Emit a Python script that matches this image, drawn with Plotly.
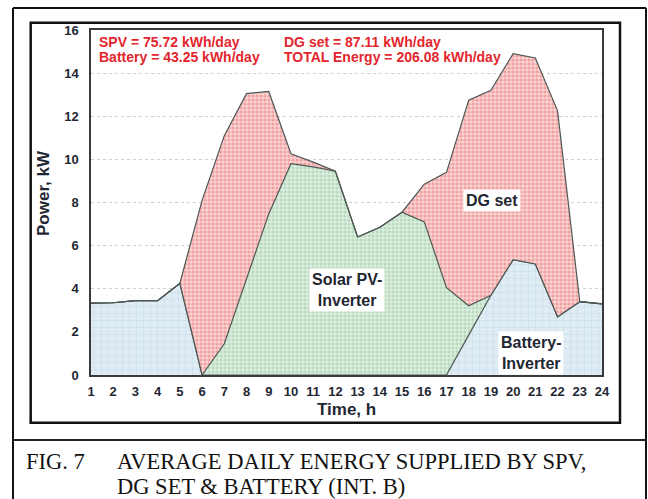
import plotly.graph_objects as go

# ---------------- data ----------------
hours = list(range(1, 25))
battery = [3.33, 3.35, 3.45, 3.45, 4.25, 0, 0, 0, 0, 0, 0, 0,
           0, 0, 0, 0, 0, 1.85, 3.7, 5.35, 5.15, 2.7, 3.4, 3.3]
solar = [0, 0, 0, 0, 0, 0, 1.45, 4.5, 7.47, 9.8, 9.65, 9.45,
         6.4, 6.85, 7.55, 7.1, 4.05, 1.36, 0, 0, 0, 0, 0, 0]
dg_set = [0, 0, 0, 0, 0, 8.1, 9.65, 8.55, 5.68, 0.46, 0.22, 0,
          0, 0, 0, 1.75, 5.35, 9.54, 9.5, 9.55, 9.55, 9.55, 0, 0]
y_ticks = list(range(0, 17, 2))

energy_lines = [
    ("SPV = 75.72 kWh/day", "Battery = 43.25 kWh/day"),
    ("DG set = 87.11 kWh/day", "TOTAL Energy = 206.08 kWh/day"),
]
caption_num = "FIG. 7"
caption_l1 = "AVERAGE DAILY ENERGY SUPPLIED BY SPV,"
caption_l2 = "DG SET &amp; BATTERY (INT. B)"

# ---------------- geometry helpers ----------------
W, H = 648, 499
PL, PR, PT, PB = 91, 602, 30, 375


def fx(px):
    return (px - PL) / (PR - PL)


def fy(py):
    return (PB - py) / (PB - PT)


edge = "#4d5754"
sans = "Liberation Sans, Arial, sans-serif"
serif = "Liberation Serif, Times New Roman, serif"
dark = "#1f2733"
red = "#e3262d"

fig = go.Figure()
fig.add_trace(go.Scatter(
    x=hours, y=battery, stackgroup="s", mode="lines", name="Battery",
    line=dict(color=edge, width=1.2),
    fillcolor="#e0ecf3",
    fillpattern=dict(shape="+", size=7, solidity=0.15,
                     fgcolor="#a9cadf", bgcolor="#e0ecf3"),
))
fig.add_trace(go.Scatter(
    x=hours, y=solar, stackgroup="s", mode="lines", name="Solar PV",
    line=dict(color=edge, width=1.2),
    fillcolor="#d8ecdb",
    fillpattern=dict(shape=".", size=4, solidity=0.45,
                     fgcolor="#98c6a1", bgcolor="#daeddd"),
))
fig.add_trace(go.Scatter(
    x=hours, y=dg_set, stackgroup="s", mode="lines", name="DG set",
    line=dict(color=edge, width=1.2),
    fillcolor="#f8d0d0",
    fillpattern=dict(shape=".", size=4, solidity=0.5,
                     fgcolor="#e96a6a", bgcolor="#f9d4d4"),
))

ann = []
# energy totals
for i, (a, b) in enumerate(energy_lines):
    xl = [97, 282][i]
    ann.append(dict(x=fx(xl), y=fy(41.7), xref="paper", yref="paper", text=a,
                    showarrow=False, xanchor="left", yanchor="middle",
                    font=dict(family=sans, size=14, color=red, weight="bold")))
    ann.append(dict(x=fx(xl), y=fy(57.3), xref="paper", yref="paper", text=b,
                    showarrow=False, xanchor="left", yanchor="middle",
                    font=dict(family=sans, size=14, color=red, weight="bold")))

# region labels
for txt, xx, yy in [("Solar PV-<br>Inverter", 12.5, 3.95),
                    ("DG set", 19.05, 8.1),
                    ("Battery-<br>Inverter", 20.8, 1.0)]:
    ann.append(dict(x=xx, y=yy, xref="x", yref="y", text=txt, showarrow=False,
                    bgcolor="white", borderpad=2,
                    font=dict(family=sans, size=16, color=dark, weight="bold")))

# axis titles
ann.append(dict(x=fx(346), y=fy(409), xref="paper", yref="paper", text="Time, h",
                showarrow=False, xanchor="center", yanchor="middle",
                font=dict(family=sans, size=17, color=dark, weight="bold")))
ann.append(dict(x=fx(43), y=fy(193), xref="paper", yref="paper", text="Power, kW",
                showarrow=False, xanchor="center", yanchor="middle", textangle=-90,
                font=dict(family=sans, size=17, color=dark, weight="bold")))

# caption
cap_font = dict(family=serif, size=22.5, color="#111")
ann.append(dict(x=fx(24), y=fy(462), xref="paper", yref="paper", text=caption_num,
                showarrow=False, xanchor="left", yanchor="middle", font=cap_font))
ann.append(dict(x=fx(115), y=fy(462), xref="paper", yref="paper", text=caption_l1,
                showarrow=False, xanchor="left", yanchor="middle", font=cap_font))
ann.append(dict(x=fx(115), y=fy(486.5), xref="paper", yref="paper", text=caption_l2,
                showarrow=False, xanchor="left", yanchor="middle", font=cap_font))

shapes = [
    # outer frame
    dict(type="line", xref="paper", yref="paper", x0=fx(13), x1=fx(13), y0=fy(8), y1=fy(505),
         line=dict(color="#111", width=2)),
    dict(type="line", xref="paper", yref="paper", x0=fx(646), x1=fx(646), y0=fy(8), y1=fy(505),
         line=dict(color="#111", width=2)),
    dict(type="line", xref="paper", yref="paper", x0=fx(13), x1=fx(646), y0=fy(8), y1=fy(8),
         line=dict(color="#111", width=2)),
    # caption separator
    dict(type="line", xref="paper", yref="paper", x0=fx(13), x1=fx(646), y0=fy(440), y1=fy(440),
         line=dict(color="#222", width=2)),
    # inner chart frame
    dict(type="rect", xref="paper", yref="paper", x0=fx(30.7), x1=fx(620), y0=fy(22.7), y1=fy(422.7),
         line=dict(color="#111", width=2.5)),
]

fig.update_layout(
    width=W, height=H,
    margin=dict(l=PL, r=W - PR, t=PT, b=H - PB),
    paper_bgcolor="white", plot_bgcolor="white",
    showlegend=False,
    annotations=ann, shapes=shapes,
    xaxis=dict(range=[1, 24], tickvals=hours, ticktext=[str(h) for h in hours],
               showgrid=False, zeroline=False, ticks="",
               showline=True, mirror=True, linecolor="#3a3a3a", linewidth=1.5,
               tickfont=dict(family=sans, size=13, color=dark, weight="bold"),
               ticklabelstandoff=4),
    yaxis=dict(range=[0, 16], tickvals=y_ticks, showgrid=True, gridcolor="#cfcfcf",
               griddash="dot", gridwidth=1, zeroline=False, ticks="",
               showline=True, mirror=True, linecolor="#3a3a3a", linewidth=1.5,
               tickfont=dict(family=sans, size=13, color=dark, weight="bold"),
               ticklabelstandoff=8),
)

fig.write_html("out.html", config={"displayModeBar": False},
               post_script="document.body.style.margin='0';document.body.style.overflow='hidden';")
